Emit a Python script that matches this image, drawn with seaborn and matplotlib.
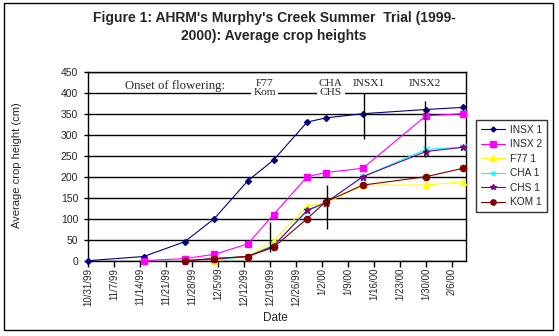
import numpy as np
import pandas as pd
import matplotlib
matplotlib.use("Agg")
import matplotlib.pyplot as plt
import matplotlib.dates as mdates
from matplotlib.ticker import FuncFormatter, MultipleLocator
from matplotlib.patches import Rectangle
import seaborn as sns

# Sampling dates and average crop heights (cm)
dates = pd.to_datetime([
    "1999-10-31", "1999-11-15", "1999-11-26", "1999-12-04", "1999-12-13",
    "1999-12-20", "1999-12-29", "2000-01-03", "2000-01-13", "2000-01-30",
    "2000-02-09",
])
nan = np.nan
insx1 = [0, 10, 45, 100, 190, 240, 330, 340, 350, 360, 365]
insx2 = [nan, 0, 5, 15, 40, 110, 200, 210, 220, 345, 350]
f77 = [nan, nan, nan, 0, 10, 48, 130, 137, 180, 180, 188]
cha = [nan, nan, nan, 2, 10, 37, 118, 138, 200, 265, 270]
chs = [nan, nan, 0, 5, 10, 35, 120, 138, 200, 260, 270]
kom = [nan, nan, 0, 5, 10, 32, 100, 140, 180, 200, 220]

series_names = ["INSX 1", "INSX 2", "F77 1", "CHA 1", "CHS 1", "KOM 1"]
series_values = [insx1, insx2, f77, cha, chs, kom]
colors = ["#000080", "#FF00FF", "#FFFF00", "#00FFFF", "#800080", "#800000"]
markers = ["D", "s", "^", "x", "*", "o"]
msizes = [3, 4.5, 5, 4, 4.5, 4.5]

sns.set_style("ticks")
plt.rcParams["font.family"] = ["Liberation Sans", "DejaVu Sans"]

fig = plt.figure(figsize=(5.59, 3.36), dpi=100)
ax = fig.add_axes([88 / 559, 1 - 260.7 / 336, (466 - 88) / 559, (260.7 - 71.7) / 336])

for name, vals, c, m, ms in zip(series_names, series_values, colors, markers, msizes):
    df = pd.DataFrame({"Date": dates, "Height": vals}).dropna()
    sns.lineplot(data=df, x="Date", y="Height", ax=ax, color=c, marker=m,
                 markersize=ms, markeredgecolor=c, markeredgewidth=1,
                 linewidth=0.8, label=name, clip_on=False, zorder=3)

start = pd.Timestamp("1999-10-31")
ax.set_xlim(start, start + pd.Timedelta(days=101.8))
ax.set_ylim(0, 450)
ax.yaxis.set_major_locator(MultipleLocator(50))
ax.xaxis.set_major_locator(mdates.WeekdayLocator(byweekday=mdates.SU))


def fmt_date(x, pos):
    d = mdates.num2date(x)
    return f"{d.month}/{d.day}/{d.year % 100:02d}"


ax.xaxis.set_major_formatter(FuncFormatter(fmt_date))
ax.tick_params(axis="x", labelrotation=90, labelsize=7, length=4, width=1,
               color="black", pad=1, direction="out")
ax.tick_params(axis="y", labelsize=7.5, length=3, width=1, color="black",
               pad=4, direction="out")

ax.yaxis.grid(True, color="black", linewidth=1)
ax.xaxis.grid(False)
ax.set_axisbelow(True)
for sp in ax.spines.values():
    sp.set_visible(True)
    sp.set_color("black")
    sp.set_linewidth(1)

ax.set_xlabel("Date", fontsize=8.5)
ax.set_ylabel("Average crop height (cm)", fontsize=8)
ax.xaxis.set_label_coords((275 - 88) / 378, -(312 - 260.7) / 189)
ax.yaxis.set_label_coords(-(88 - 22) / 378, (260.7 - 165) / 189)


def day(n):
    return start + pd.Timedelta(days=n)


# Flowering onset annotations
serif = ["Liberation Serif", "DejaVu Serif"]
ax.text(day(10), 417, "Onset of flowering:", family=serif, fontsize=9.2,
        va="center", ha="left", zorder=5)
box = dict(facecolor="white", edgecolor="none", pad=1.5)
ax.text(day(47.6), 411, "F77\nKom", family=serif, fontsize=8.2, va="center",
        ha="center", linespacing=0.9, bbox=box, zorder=5)
ax.text(day(65.4), 411, "CHA\nCHS", family=serif, fontsize=8.2, va="center",
        ha="center", linespacing=0.9, bbox=box, zorder=5)
ax.text(day(75.5), 421, "INSX1", family=serif, fontsize=8.2, va="center",
        ha="center", zorder=5)
ax.text(day(90.8), 421, "INSX2", family=serif, fontsize=8.2, va="center",
        ha="center", zorder=5)

ax.vlines([day(49), day(64.5), day(74.4), day(90.8)],
          [20, 75, 290, 248], [93, 180, 399, 380],
          colors="black", linewidth=1, zorder=4)

leg = ax.legend(loc="upper left", bbox_to_anchor=((476 - 88) / 378, (260.7 - 120) / 189),
                frameon=True, fancybox=False, shadow=False, fontsize=7.3,
                handlelength=2.4, handletextpad=0.5, borderpad=0.45,
                labelspacing=0.45, borderaxespad=0, markerscale=0.85)
leg.get_frame().set_edgecolor("black")
leg.get_frame().set_linewidth(1)

fig.text(274 / 559, 1 - 27 / 336,
         "Figure 1: AHRM's Murphy's Creek Summer  Trial (1999-\n2000): Average crop heights",
         ha="center", va="center", fontsize=10, fontweight="bold", linespacing=1.35)

fig.patches.append(Rectangle((4 / 559, 1 - 330 / 336), (553 - 4) / 559, (330 - 3) / 336,
                             transform=fig.transFigure, fill=False,
                             edgecolor="black", linewidth=1))

fig.savefig("out.png", dpi=100)
